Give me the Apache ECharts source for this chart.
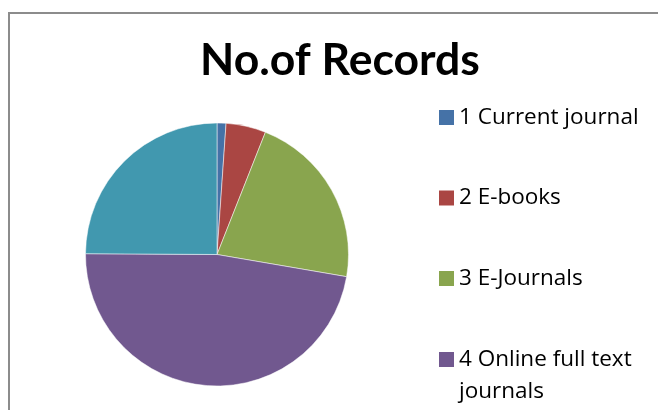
<!DOCTYPE html>
<html>
<head>
<meta charset="utf-8">
<script src="https://cdn.jsdelivr.net/npm/echarts@6/dist/echarts.min.js"></script>
<style>
  body { margin: 0; background: #fff; }
  #frame { position: absolute; left: 8px; top: 12px; width: 700px; height: 450px;
           border-left: 2px solid #8c8c8c; border-top: 2px solid #8c8c8c; }
  #main { position: absolute; left: 0; top: 0; width: 658px; height: 410px; }
</style>
</head>
<body>
<div id="frame"></div>
<div id="main"></div>
<script>
// data (share of records, %)
const names = ['1 Current journal', '2 E-books', '3 E-Journals', '4 Online full text\njournals'];
const values = [1.1, 4.9, 21.7, 47.4, 24.9];
const colors = ['#4572A7', '#AA4643', '#89A54E', '#71588F', '#4198AF'];
const legendTops = [101.5, 182, 262.5, 311.5];

const myChart = echarts.init(document.getElementById('main'));

const pieData = values.map((v, i) => ({
  value: v,
  name: names[i] || '5',
  itemStyle: { color: colors[i] }
}));

// one legend per item so each row sits where it does in the original
const legends = names.map((n, i) => ({
  orient: 'vertical',
  left: 439,
  top: legendTops[i],
  padding: 0,
  itemWidth: 15,
  itemHeight: 15,
  icon: 'rect',
  selectedMode: false,
  itemStyle: { borderWidth: 0 },
  // last item wraps: blank line on top keeps the marker beside the first line
  formatter: i === 3 ? (name) => ' \n' + name : '{name}',
  textStyle: {
    fontFamily: 'Open Sans',
    fontSize: 22.5,
    color: '#000',
    lineHeight: 32
  },
  data: [n]
}));

const option = {
  animation: false,
  title: {
    text: 'No.of Records',
    left: 340,
    textAlign: 'center',
    top: 38,
    padding: 0,
    textStyle: {
      fontFamily: 'Lato',
      fontWeight: 'bold',
      fontSize: 44.5,
      color: '#000'
    }
  },
  legend: legends,
  series: [
    {
      type: 'pie',
      center: [217, 254.5],
      radius: 131.5,
      startAngle: 90,
      label: { show: false },
      labelLine: { show: false },
      itemStyle: { borderColor: '#fff', borderWidth: 0.5 },
      emphasis: { disabled: true },
      data: pieData
    }
  ]
};

myChart.setOption(option);
</script>
</body>
</html>
